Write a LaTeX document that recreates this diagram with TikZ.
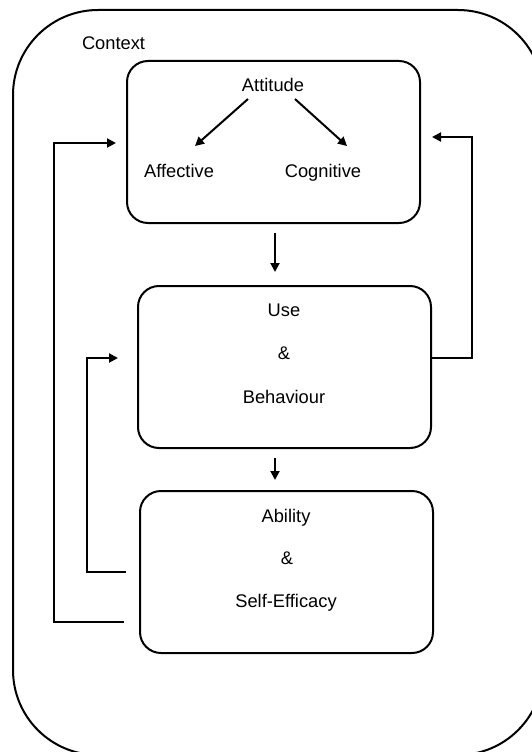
\documentclass[tikz,border=0pt]{standalone}
\usepackage{fontspec}
\setmainfont{Liberation Sans}
\usetikzlibrary{arrows.meta}
\begin{document}
\begin{tikzpicture}[x=1pt,y=-1pt,
  line width=2pt,
  stage/.style={draw, rounded corners=21pt, minimum width=293pt, minimum height=162pt, inner sep=0pt},
  frame/.style={draw, rounded corners=85pt, minimum width=530pt, minimum height=745pt, inner sep=0pt},
  label/.style={anchor=base, inner sep=0pt, font=\fontsize{18.3pt}{22pt}\selectfont},
  arr/.style={-{Triangle[length=9pt,width=9pt]}},
  ]
\useasboundingbox (0,0) rectangle (532,752);
\clip (0,0) rectangle (532,752);

% outer context frame
\node[frame] (ctx) at (278,382.5) {};
\node[label, anchor=base west] (ctxt) at (81,49) {Context};

% the three stage boxes
\node[stage] (att) at (273.5,142) {};
\node[stage] (use) at (284.5,367) {};
\node[stage] (abl) at (286.5,572) {};

% texts inside the boxes
\node[label] (attx) at (273,92) {Attitude};
\node[label] (aff)  at (179,177) {Affective};
\node[label] (cog)  at (323,177) {Cognitive};

\node[label] (use1) at (284,316) {Use};
\node[label] (use2) at (284,359) {\&};
\node[label] (use3) at (284,403) {Behaviour};

\node[label] (abl1) at (286,522) {Ability};
\node[label] (abl2) at (287,564) {\&};
\node[label] (abl3) at (286,607) {Self-Efficacy};

% connector end points
\coordinate (d1) at (248,99);
\coordinate (d2) at (195,146);
\coordinate (d3) at (295,99);
\coordinate (d4) at (347,146);
\coordinate (v1) at (275,233);
\coordinate (v2) at (275,272);
\coordinate (v3) at (275,458);
\coordinate (v4) at (275,480);
\coordinate (b1) at (124,622);
\coordinate (b2) at (126,572);
\coordinate (t1) at (116,143);
\coordinate (t2) at (118,358);
\coordinate (r1) at (432,137);
\coordinate (Lx) at (54,0);
\coordinate (lx) at (87,0);
\coordinate (Rx) at (472,0);

% attitude components
\draw[arr] (d1) -- (d2);
\draw[arr] (d3) -- (d4);

% main flow
\draw[arr] (v1) -- (v2);
\draw[arr] (v3) -- (v4);

% feedback loops
\draw[arr] (b1) -| (Lx |- t1) -- (t1);
\draw[arr] (b2) -| (lx |- t2) -- (t2);
\draw[arr] (use.east |- t2) -| (Rx |- r1) -- (r1);
\end{tikzpicture}
\end{document}
